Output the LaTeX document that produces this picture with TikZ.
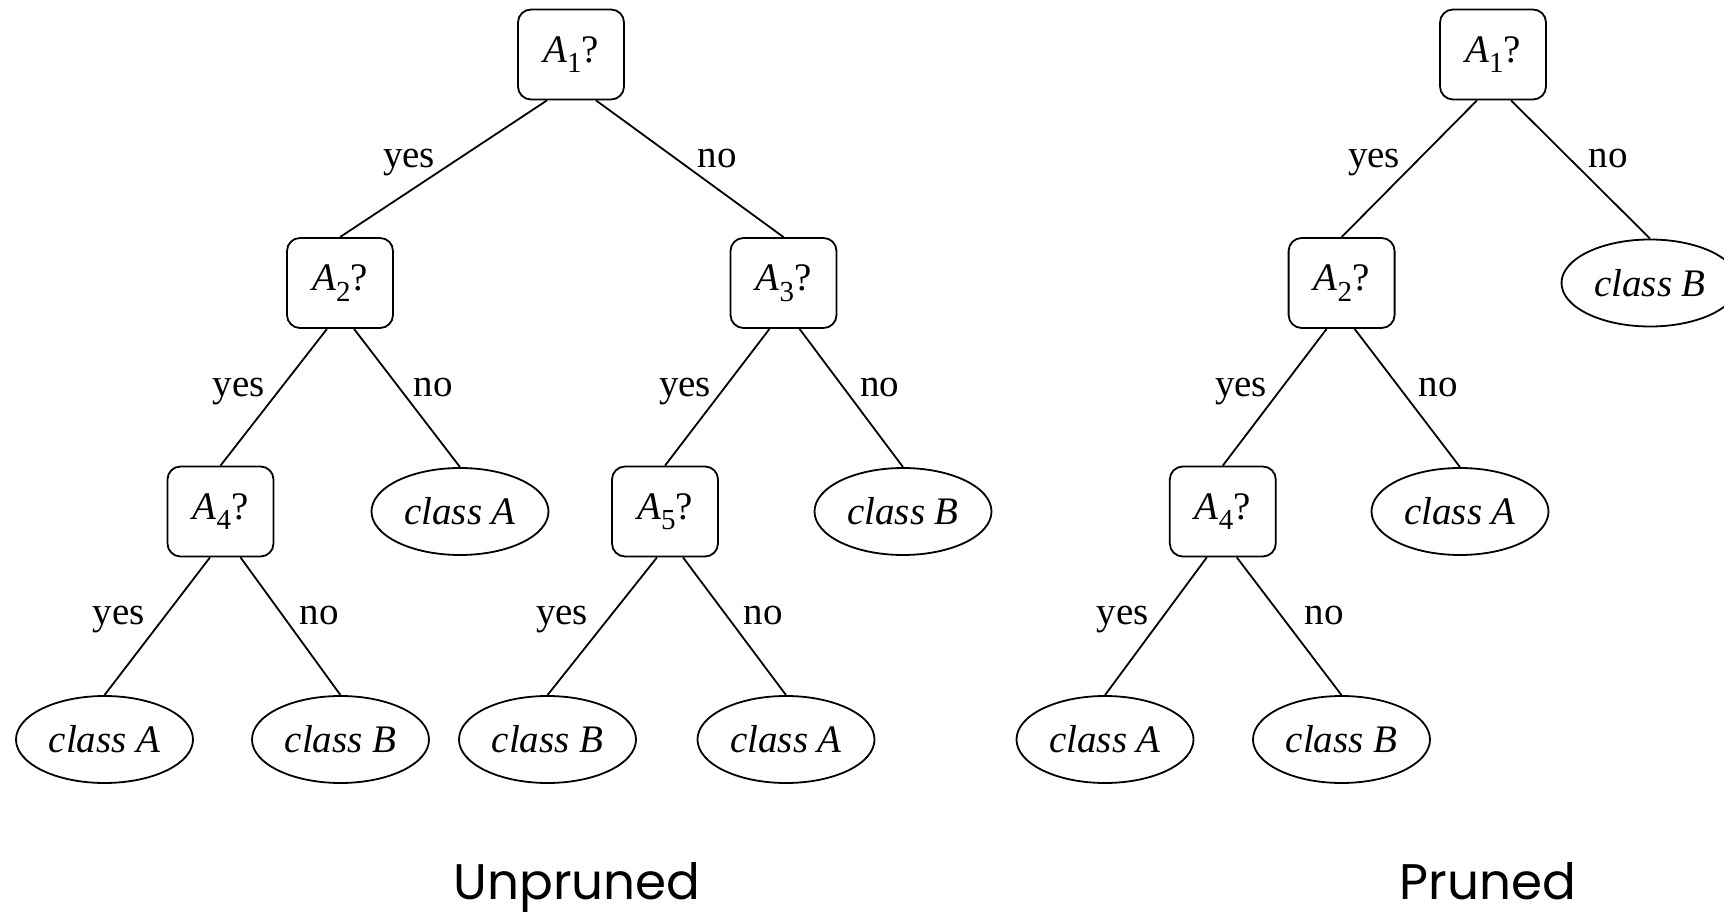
\documentclass[tikz,border=0pt]{standalone}
\usepackage{fontspec}
\setmainfont{Liberation Serif}
\newfontfamily\capfont{Poppins}
\usetikzlibrary{shapes.geometric}

% test node label: italic attribute with lowered subscript and a question mark
\newcommand\attr[1]{\textit{A}\raisebox{-0.27em}{\fontsize{14.5}{15}\selectfont #1}?}

\tikzset{
  test/.style={draw, rounded corners=6.5pt, minimum width=53pt, minimum height=45pt,
    inner sep=0pt, line width=0.9pt, font=\fontsize{19.5}{20}\selectfont},
  leaf/.style={draw, ellipse, minimum width=88.5pt, minimum height=43.5pt,
    inner sep=0pt, line width=0.9pt, font=\fontsize{19.5}{20}\selectfont\itshape},
  branch/.style={line width=0.9pt},
  lbl/.style={anchor=base, inner sep=0pt, font=\fontsize{19.5}{20}\selectfont},
  caption/.style={anchor=base, inner sep=0pt, font=\capfont\fontsize{25}{27}\selectfont}
}

\begin{document}
\begin{tikzpicture}[x=0.5pt, y=-0.5pt]
\useasboundingbox (0,0) rectangle (1724,913);

% ---- unpruned tree ----
\node[test] (uA1) at (571,54.5) {\attr{1}};
\node[test] (uA2) at (340,283) {\attr{2}};
\node[test] (uA3) at (783.5,283) {\attr{3}};
\node[test] (uA4) at (220.5,511.5) {\attr{4}};
\node[leaf] (uL1) at (460,511.5) {class A};
\node[test] (uA5) at (665,511.5) {\attr{5}};
\node[leaf] (uL2) at (903,511.5) {class B};
\node[leaf] (uL3) at (104.5,739.5) {class A};
\node[leaf] (uL4) at (340.5,739.5) {class B};
\node[leaf] (uL5) at (547.5,739.5) {class B};
\node[leaf] (uL6) at (786,739.5) {class A};

\draw[branch] ([xshift=-12pt]uA1.south) -- (uA2.north);
\draw[branch] ([xshift=12.5pt]uA1.south) -- (uA3.north);
\draw[branch] ([xshift=-6.5pt]uA2.south) -- (uA4.north);
\draw[branch] ([xshift=7pt]uA2.south) -- (uL1.north);
\draw[branch] ([xshift=-7pt]uA3.south) -- (uA5.north);
\draw[branch] ([xshift=8pt]uA3.south) -- (uL2.north);
\draw[branch] ([xshift=-5.25pt]uA4.south) -- (uL3.north);
\draw[branch] ([xshift=10pt]uA4.south) -- (uL4.north);
\draw[branch] ([xshift=-4pt]uA5.south) -- (uL5.north);
\draw[branch] ([xshift=9pt]uA5.south) -- (uL6.north);

\node[lbl] (uy1) at (409,168) {yes};
\node[lbl] (un1) at (717,168) {no};
\node[lbl] (uy2) at (238.6,396.5) {yes};
\node[lbl] (un2) at (433,396.5) {no};
\node[lbl] (uy3) at (685,396.5) {yes};
\node[lbl] (un3) at (879.6,396.5) {no};
\node[lbl] (uy4) at (118.7,625) {yes};
\node[lbl] (un4) at (319,625) {no};
\node[lbl] (uy5) at (562,625) {yes};
\node[lbl] (un5) at (763,625) {no};

% ---- pruned tree ----
\node[test] (pA1) at (1493,54.5) {\attr{1}};
\node[test] (pA2) at (1341.6,283) {\attr{2}};
\node[leaf] (pL1) at (1650,283) {class B};
\node[test] (pA4) at (1222.8,511.5) {\attr{4}};
\node[leaf] (pL2) at (1460,511.5) {class A};
\node[leaf] (pL3) at (1105,739.5) {class A};
\node[leaf] (pL4) at (1341.5,739.5) {class B};

\draw[branch] ([xshift=-8pt]pA1.south) -- (pA2.north);
\draw[branch] ([xshift=9pt]pA1.south) -- (pL1.north);
\draw[branch] ([xshift=-7.5pt]pA2.south) -- (pA4.north);
\draw[branch] ([xshift=6.5pt]pA2.south) -- (pL2.north);
\draw[branch] ([xshift=-8pt]pA4.south) -- (pL3.north);
\draw[branch] ([xshift=7pt]pA4.south) -- (pL4.north);

\node[lbl] (py1) at (1374,168) {yes};
\node[lbl] (pn1) at (1608,168) {no};
\node[lbl] (py2) at (1241,396.5) {yes};
\node[lbl] (pn2) at (1438,396.5) {no};
\node[lbl] (py4) at (1122.6,625) {yes};
\node[lbl] (pn4) at (1324,625) {no};

% ---- captions ----
\node[caption] (capU) at (577,899) {Unpruned};
\node[caption] (capP) at (1488,899) {Pruned};
\end{tikzpicture}
\end{document}
